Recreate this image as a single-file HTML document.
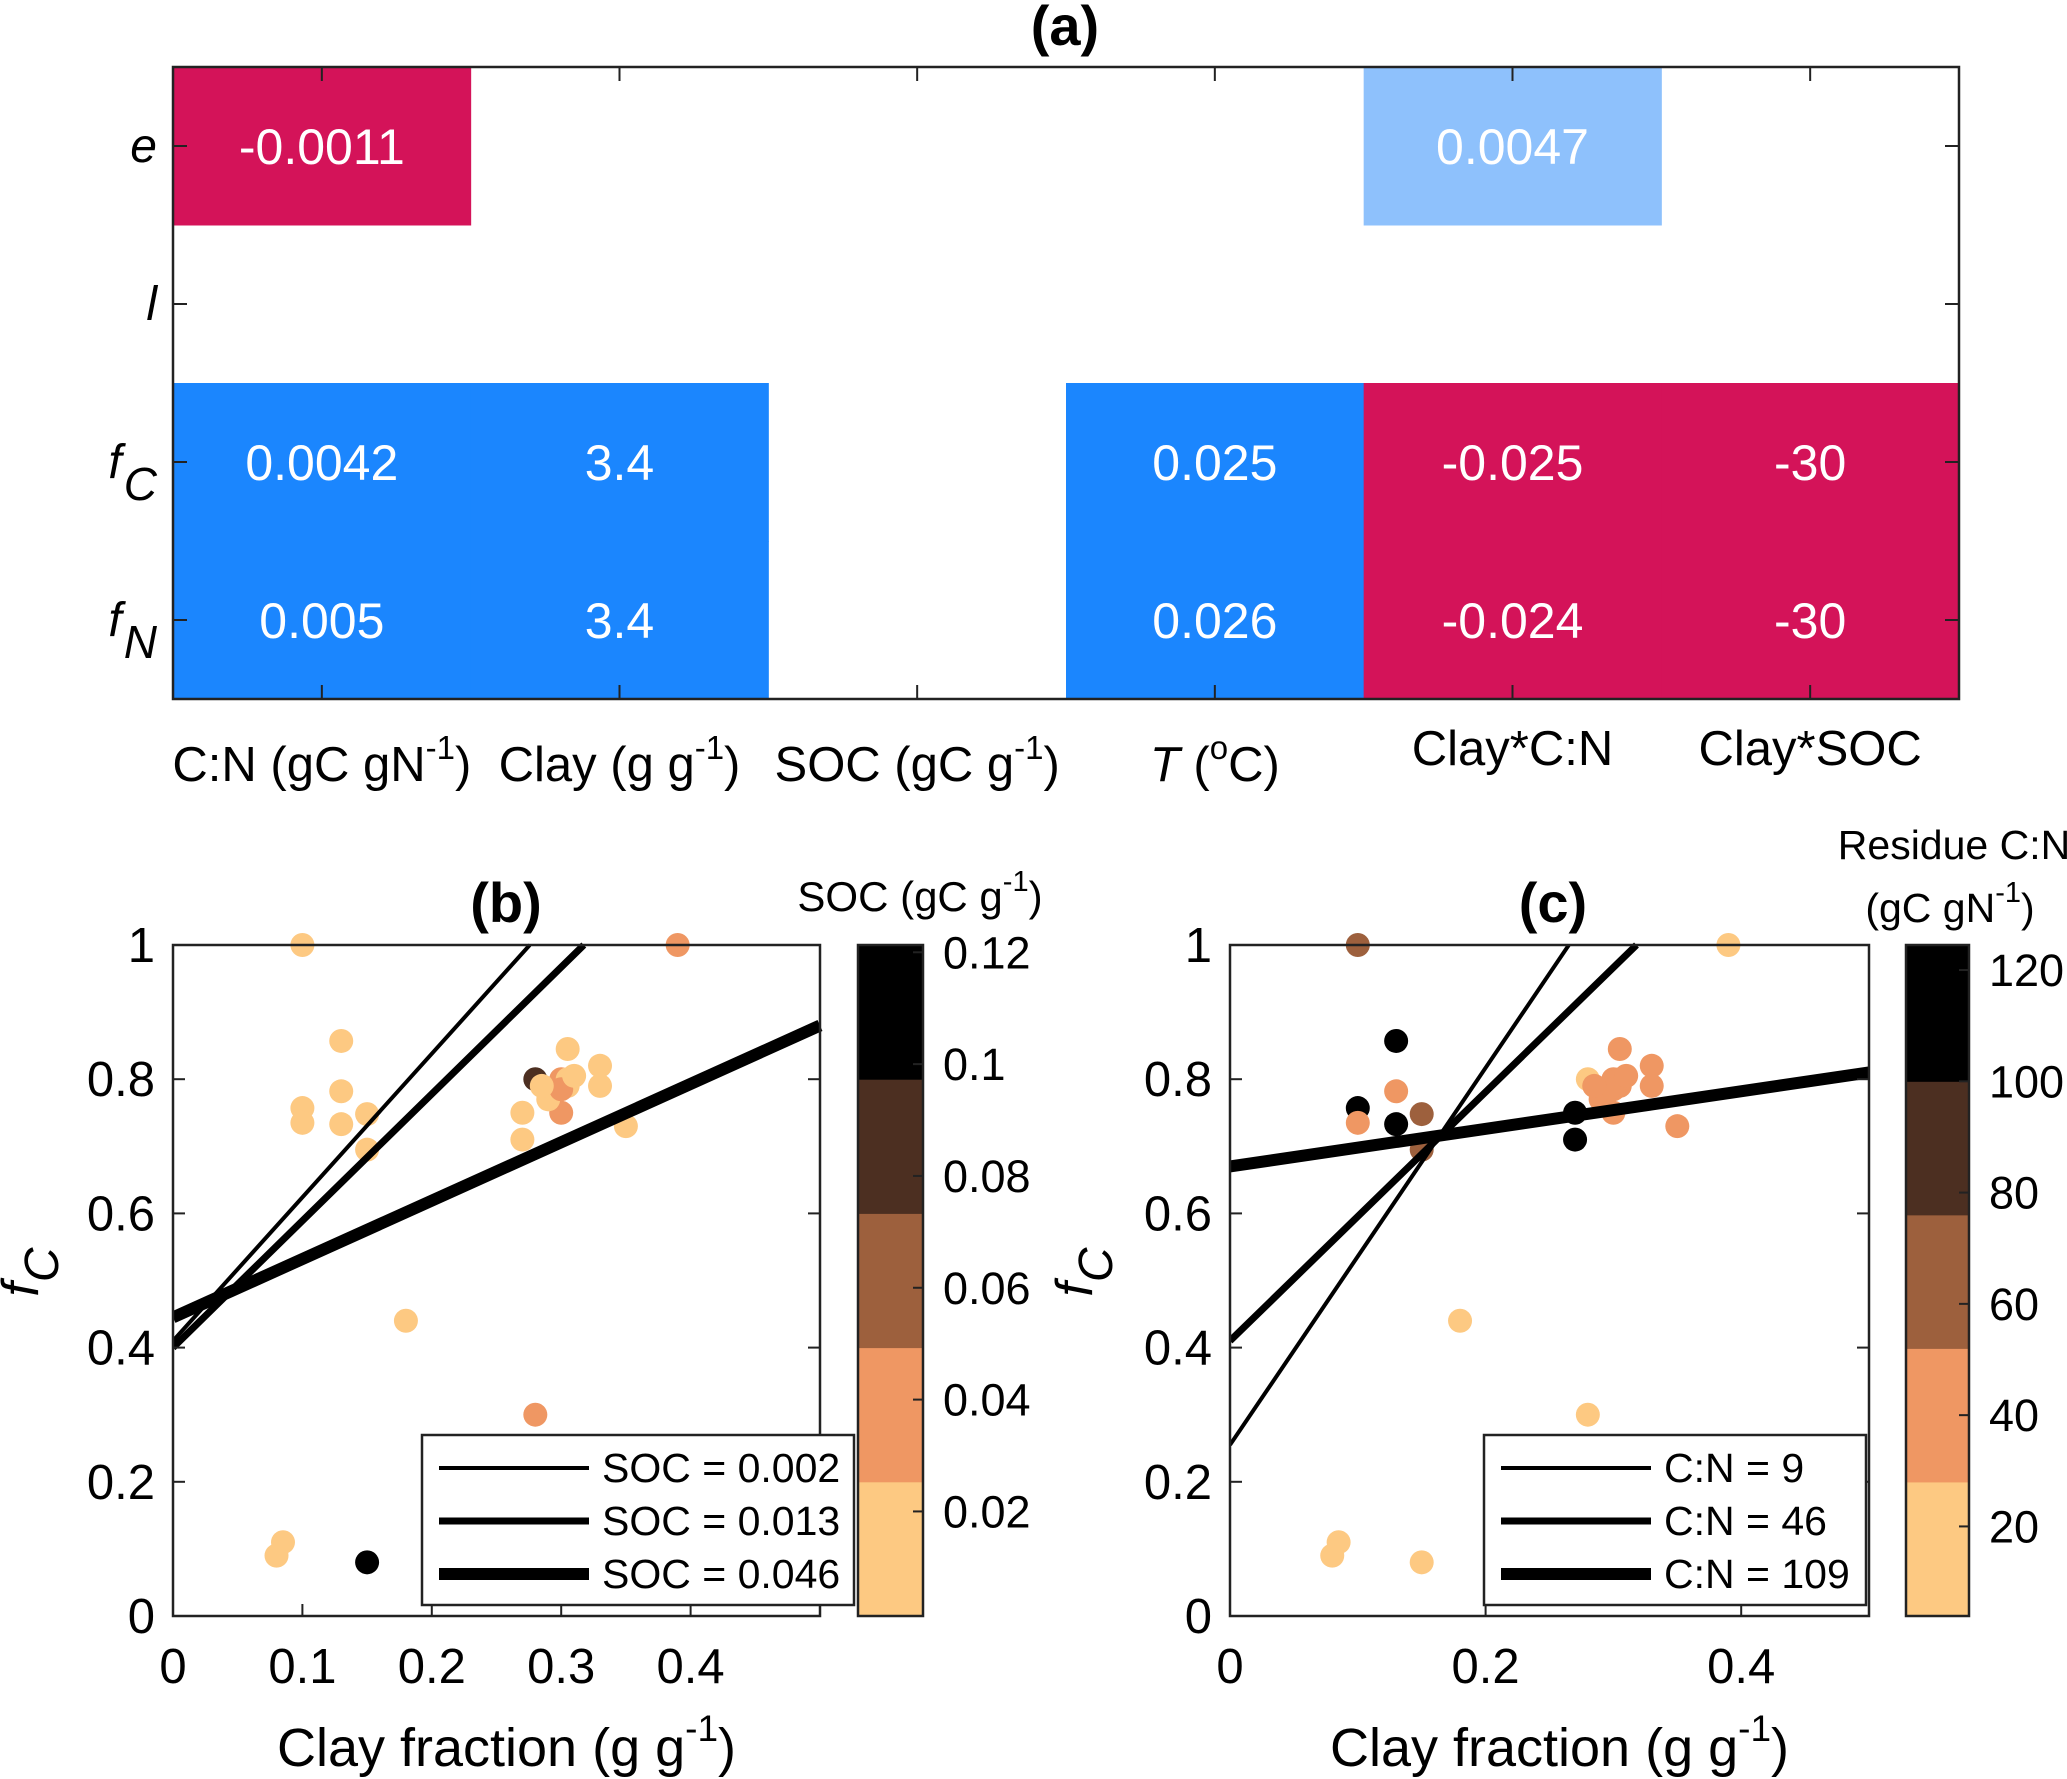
<!DOCTYPE html>
<html><head><meta charset="utf-8"><style>
html,body{margin:0;padding:0;background:#fff}
svg{display:block;font-family:"Liberation Sans",Arial,sans-serif}
</style></head><body>
<svg id="fig" width="2067" height="1779" viewBox="0 0 2067 1779" xmlns="http://www.w3.org/2000/svg">
<g id="pa"></g>
<g id="pb"></g>
<g id="pc"></g>
</svg>
<script>
// ---- Panel (a) data ----
const aRows = ["e", "l", "fC", "fN"];
const aCols = ["C:N", "Clay", "SOC", "T", "Clay*C:N", "Clay*SOC"];
const aValues = [
  ["-0.0011", null, null, null, "0.0047", null],
  [null, null, null, null, null, null],
  ["0.0042", "3.4", null, "0.025", "-0.025", "-30"],
  ["0.005", "3.4", null, "0.026", "-0.024", "-30"]
];
const aColors = [
  ["#D41359", null, null, null, "#8EC1FC", null],
  [null, null, null, null, null, null],
  ["#1B86FE", "#1B86FE", null, "#1B86FE", "#D41359", "#D41359"],
  ["#1B86FE", "#1B86FE", null, "#1B86FE", "#D41359", "#D41359"]
];
// ---- Scatter data (shared for b & c) ----
const clayVals = [0.10,0.39,0.13,0.10,0.10,0.13,0.13,0.15,0.15,0.18,0.28,0.08,0.085,0.15,0.27,0.27,0.28,0.30,0.30,0.29,0.29,0.305,0.305,0.305,0.33,0.33,0.35,0.30,0.31,0.285];
const fcVals   = [1.0,1.0,0.857,0.757,0.735,0.782,0.733,0.748,0.695,0.44,0.30,0.09,0.11,0.08,0.75,0.71,0.80,0.80,0.75,0.78,0.77,0.845,0.80,0.79,0.82,0.79,0.73,0.785,0.805,0.79];
const socVals  = [0.01,0.035,0.01,0.01,0.01,0.01,0.01,0.01,0.01,0.01,0.035,0.01,0.01,0.11,0.01,0.01,0.085,0.035,0.035,0.01,0.01,0.01,0.01,0.01,0.01,0.01,0.01,0.035,0.01,0.01];
const cnVals   = [65,15,110,110,40,40,110,65,55,15,15,15,15,15,110,110,15,40,40,40,40,40,40,40,40,40,40,40,40,40];
// regression lines (intercept, slope)
const bLabels = ["SOC = 0.002","SOC = 0.013","SOC = 0.046"];
const bIntercepts = [0.41,0.40,0.445];
const bSlopes = [2.14,1.89,0.87];
const cLabels = ["C:N = 9","C:N = 46","C:N = 109"];
const cIntercepts = [0.255,0.41,0.67];
const cSlopes = [2.81,1.855,0.28];
const lineWidths = [4,7,12];
// colorbars
const socBounds = [0.0013,0.0253,0.0493,0.0733,0.0973,0.1213];
const socTicks = [0.02,0.04,0.06,0.08,0.1,0.12];
const cnBounds = [3.9,28,52,76,100,124.5];
const cnTicks = [20,40,60,80,100,120];
const bandColors = ["#FDC982","#EF9763","#9D603D","#4C2F21","#000000"];

const NS="http://www.w3.org/2000/svg";
function el(tag,attrs,parent,text){const e=document.createElementNS(NS,tag);for(const k in attrs)e.setAttribute(k,attrs[k]);if(text!==undefined)e.textContent=text;parent.appendChild(e);return e;}

// ---- Panel (a) ----
const pa=document.getElementById('pa');
const aL=173,aR=1959,aT=67,aB=699;
const cw=(aR-aL)/aCols.length, rh=(aB-aT)/aRows.length;
const tA=el('text',{x:1065,y:45,'font-size':56,'font-weight':'bold','text-anchor':'middle'},pa,'(a)');


aRows.forEach((r,i)=>{aCols.forEach((c,j)=>{
  if(aColors[i][j]){
    const rc=el('rect',{x:aL+j*cw,y:aT+i*rh,width:cw+0.5,height:rh+0.5,fill:aColors[i][j]},pa);
    
    
    const t=el('text',{x:aL+(j+0.5)*cw,y:aT+(i+0.5)*rh+18,'font-size':50,fill:'#fff','text-anchor':'middle'},pa,aValues[i][j]);
    
    
  }
});});
el('rect',{x:aL,y:aT,width:aR-aL,height:aB-aT,fill:'none',stroke:'#222','stroke-width':2.5},pa);
for(let j=0;j<aCols.length;j++){const x=aL+(j+0.5)*cw;el('line',{x1:x,y1:aT,x2:x,y2:aT+14,stroke:'#222','stroke-width':2},pa);el('line',{x1:x,y1:aB,x2:x,y2:aB-14,stroke:'#222','stroke-width':2},pa);}
for(let i=0;i<aRows.length;i++){const y=aT+(i+0.5)*rh;el('line',{x1:aL,y1:y,x2:aL+14,y2:y,stroke:'#222','stroke-width':2},pa);el('line',{x1:aR,y1:y,x2:aR-14,y2:y,stroke:'#222','stroke-width':2},pa);}
// row labels
const rowLab=[['e',''],['l',''],['f','C'],['f','N']];
rowLab.forEach((p,i)=>{const y=aT+(i+0.5)*rh;
  const t=el('text',{x:157,y:y+16,'font-size':48,'font-style':'italic','text-anchor':'end'},pa);
  
  
  el('tspan',{},t,p[0]);
  if(p[1]){el('tspan',{dy:22,'font-size':46,dx:2},t,p[1]);}
});
// column labels
const colHtml=[
 [['C:N (gC gN',0],['-1',1],[')',0]],
 [['Clay (g g',0],['-1',1],[')',0]],
 [['SOC (gC g',0],['-1',1],[')',0]],
 [['T',2],[' (',0],['o',1],['C)',0]],
 [['Clay*C:N',0]],
 [['Clay*SOC',0]]
];
colHtml.forEach((parts,j)=>{
  const y=j>=4?765:781;
  const t=el('text',{x:aL+(j+0.5)*cw,y:y,'font-size':49,'text-anchor':'middle'},pa);
  
  
  let up=false;
  parts.forEach(p=>{
    if(p[1]===1){el('tspan',{dy:-22,'font-size':33},t,p[0]);up=true;}
    else{const a={};if(up){a.dy=22;up=false;}if(p[1]===2)a['font-style']='italic';el('tspan',a,t,p[0]);}
  });
});

// ---- Scatter panels ----
function scatterPanel(g,o){
  const {L,R,T,B}=o;
  const xs=v=>L+(v/0.5)*(R-L), ys=v=>B-v*(B-T);
  const tt=el('text',{x:o.titleX,y:922,'font-size':56,'font-weight':'bold','text-anchor':'middle'},g,o.title);
  
  
  const defs=el('defs',{},g);const cp=el('clipPath',{id:o.id+'clip'},defs);el('rect',{x:L,y:T-14,width:R-L+8,height:B-T+14},cp);
  // points
  clayVals.forEach((cx,i)=>{
    const v=o.colorVals[i];let k=0;for(let b=0;b<5;b++){if(v>=o.bounds[b])k=b;}
    const c=el('circle',{cx:xs(cx),cy:ys(fcVals[i]),r:12,fill:bandColors[k]},g);
    
    
  });
  // lines
  const lg=el('g',{'clip-path':'url(#'+o.id+'clip)'},g);
  o.intercepts.forEach((a,i)=>{
    const x2=Math.min(0.5,(1-a)/o.slopes[i]);
    const ln=el('line',{x1:xs(0),y1:ys(a),x2:xs(x2),y2:ys(a+o.slopes[i]*x2),stroke:'#000','stroke-width':lineWidths[i]},lg);
    
    
  });
  // axes box
  el('rect',{x:L,y:T,width:R-L,height:B-T,fill:'none',stroke:'#222','stroke-width':2.5},g);
  const yt=[0,0.2,0.4,0.6,0.8,1];
  yt.forEach(v=>{const y=ys(v);el('line',{x1:L,y1:y,x2:L+12,y2:y,stroke:'#222','stroke-width':2},g);el('line',{x1:R,y1:y,x2:R-12,y2:y,stroke:'#222','stroke-width':2},g);
    const t=el('text',{x:L-18,y:y+17,'font-size':49,'text-anchor':'end'},g,String(v));
    
    });
  o.xticks.forEach(v=>{const x=xs(v);el('line',{x1:x,y1:B,x2:x,y2:B-12,stroke:'#222','stroke-width':2},g);
    const t=el('text',{x:x,y:1683,'font-size':49,'text-anchor':'middle'},g,String(v));
    
    });
  const xl=el('text',{x:(L+R)/2+10,y:1766,'font-size':54,'text-anchor':'middle'},g);
  
  
  el('tspan',{},xl,'Clay fraction (g g');el('tspan',{dy:-25,'font-size':37},xl,'-1');el('tspan',{dy:25},xl,')');
  const yl=el('text',{transform:'translate('+o.ylx+',1272) rotate(-90)','font-size':52,'font-style':'italic','text-anchor':'middle'},g);
  
  
  el('tspan',{},yl,'f');el('tspan',{dy:20,'font-size':48},yl,'C');
  // legend
  const lgd=el('g',{},g);
  
  
  el('rect',{x:o.legX,y:1435,width:o.legW,height:170,fill:'#fff',stroke:'#222','stroke-width':2.5},lgd);
  o.labels.forEach((s,i)=>{const y=1468+i*53;
    el('line',{x1:o.legX+17,y1:y,x2:o.legX+167,y2:y,stroke:'#000','stroke-width':lineWidths[i]},lgd);
    const t=el('text',{x:o.legX+180,y:y+14,'font-size':41},lgd,s);
    
    });
  // colorbar
  const cb=el('g',{},g);
  
  
  const cL=o.cbX,cR=o.cbX+o.cbW,lo=o.bounds[0],hi=o.bounds[5];
  const cy=v=>B-(v-lo)/(hi-lo)*(B-T);
  for(let b=0;b<5;b++){el('rect',{x:cL,y:cy(o.bounds[b+1]),width:o.cbW,height:cy(o.bounds[b])-cy(o.bounds[b+1])+0.5,fill:bandColors[b]},cb);}
  el('rect',{x:cL,y:T,width:o.cbW,height:B-T,fill:'none',stroke:'#222','stroke-width':2.5},cb);
  o.ticks.forEach(v=>{const y=cy(v);el('line',{x1:cR,y1:y,x2:cR-10,y2:y,stroke:'#222','stroke-width':2},cb);
    const t=el('text',{x:cR+20,y:y+16,'font-size':45},cb,String(v));
    
    });
}
scatterPanel(document.getElementById('pb'),{id:'b',L:173,R:820,T:945,B:1616,title:'(b)',titleX:506,colorVals:socVals,bounds:socBounds,ticks:socTicks,intercepts:bIntercepts,slopes:bSlopes,labels:bLabels,xticks:[0,0.1,0.2,0.3,0.4],ylx:38,legX:422,legW:432,cbX:858,cbW:65});
scatterPanel(document.getElementById('pc'),{id:'c',L:1230,R:1869,T:945,B:1616,title:'(c)',titleX:1553,colorVals:cnVals,bounds:cnBounds,ticks:cnTicks,intercepts:cIntercepts,slopes:cSlopes,labels:cLabels,xticks:[0,0.2,0.4],ylx:1092,legX:1484,legW:382,cbX:1906,cbW:63});
// colorbar titles
const pb=document.getElementById('pb'),pc=document.getElementById('pc');
const st=el('text',{x:920,y:911,'font-size':42,'text-anchor':'middle'},pb);


el('tspan',{},st,'SOC (gC g');el('tspan',{dy:-20,'font-size':29},st,'-1');el('tspan',{dy:20},st,')');
const ct1=el('text',{x:1954,y:859,'font-size':41,'text-anchor':'middle'},pc,'Residue C:N');


const ct2=el('text',{x:1950,y:922,'font-size':41,'text-anchor':'middle'},pc);


el('tspan',{},ct2,'(gC gN');el('tspan',{dy:-20,'font-size':29},ct2,'-1');el('tspan',{dy:20},ct2,')');
</script>
</body></html>
